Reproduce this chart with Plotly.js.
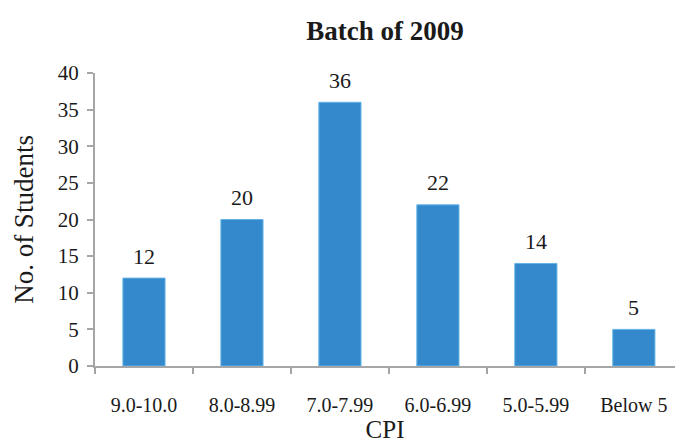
<!DOCTYPE html>
<html>
<head>
<meta charset="utf-8">
<script src="https://cdn.plot.ly/plotly-3.0.1.min.js"></script>
<style>html,body{margin:0;padding:0;background:#fff;}#chart{width:675px;height:444px;}</style>
</head>
<body>
<div id="chart"></div>
<script>
var categories = ["9.0-10.0", "8.0-8.99", "7.0-7.99", "6.0-6.99", "5.0-5.99", "Below 5"];
var students = [12, 20, 36, 22, 14, 5];
var yTicks = [0, 5, 10, 15, 20, 25, 30, 35, 40];

var FONT = "Liberation Serif, DejaVu Serif, serif";
var trace = {
  type: "bar",
  x: categories,
  y: students,
  width: 0.43,
  marker: {color: "#3389cb", line: {color: "#62b3e6", width: 1}},
  hoverinfo: "x+y"
};
var labels = categories.map(function (c, i) {
  return {
    x: c, y: students[i], xref: "x", yref: "y",
    text: String(students[i]), showarrow: false,
    yanchor: "middle", yshift: 22,
    font: {family: FONT, size: 22, color: "#1a1a1a"}
  };
});
var layout = {
  width: 675, height: 444,
  margin: {l: 95, r: 0, t: 73, b: 78},
  paper_bgcolor: "#fff", plot_bgcolor: "#fff",
  showlegend: false,
  annotations: labels,
  title: {text: "<b>Batch of 2009</b>", x: 0.5, xref: "paper", xanchor: "center", y: 0.932, yanchor: "middle",
          font: {family: FONT, size: 27, color: "#1a1a1a"}},
  xaxis: {
    type: "category",
    range: [-0.5, 5.42],
    showline: true, linecolor: "#a6a6a6", linewidth: 2,
    ticks: "outside", tickson: "boundaries", ticklen: 6, tickcolor: "#a6a6a6", tickwidth: 2,
    ticklabelstandoff: 20,
    tickfont: {family: FONT, size: 20, color: "#1a1a1a"},
    showgrid: false, zeroline: false,
    title: {text: "CPI", font: {family: FONT, size: 25, color: "#1a1a1a"}, standoff: 4}
  },
  yaxis: {
    range: [0, 40],
    tickvals: yTicks,
    showline: true, linecolor: "#a6a6a6", linewidth: 2,
    ticks: "outside", ticklen: 6, tickcolor: "#a6a6a6", tickwidth: 2,
    tickfont: {family: FONT, size: 21, color: "#1a1a1a"},
    ticklabelstandoff: 4,
    showgrid: false, zeroline: false,
    title: {text: "No. of Students", font: {family: FONT, size: 27, color: "#1a1a1a"}, standoff: 16}
  }
};
Plotly.newPlot("chart", [trace], layout, {displayModeBar: false, staticPlot: true});
</script>
</body>
</html>
